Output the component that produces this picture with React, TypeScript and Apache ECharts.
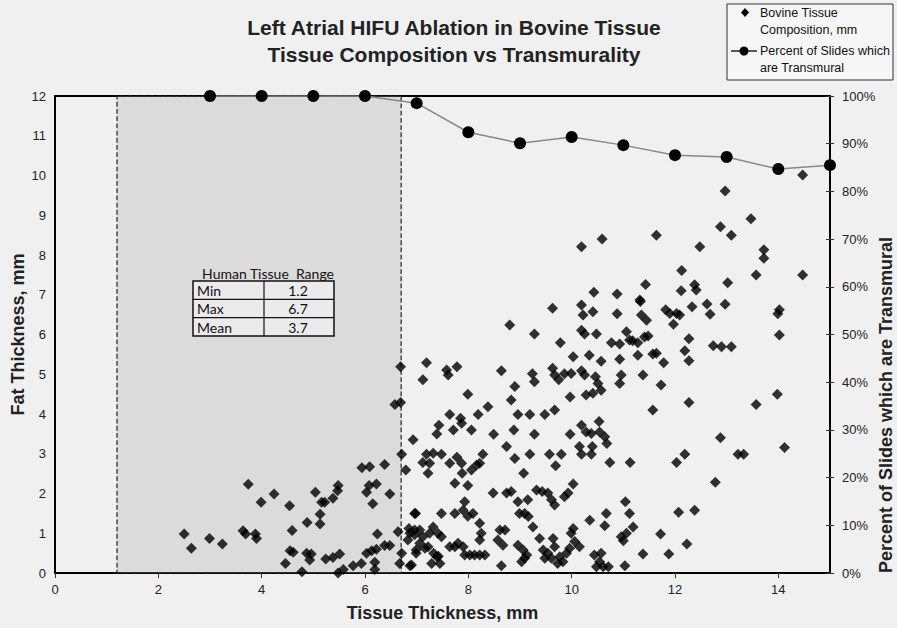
import React, { useEffect, useRef } from "react";
import * as echarts from "echarts";

// Bovine tissue composition: [tissue thickness mm, fat thickness mm]
const bovineTissue: [number, number][] = [
  [2.5, 0.98], [2.64, 0.62], [2.99, 0.87], [3.24, 0.73], [3.64, 1.06], [3.69, 0.98], [3.88, 0.98], [3.9, 0.87],
  [3.74, 2.23], [3.99, 1.78], [4.24, 1.99], [4.54, 1.69], [4.59, 1.07], [4.55, 0.56], [4.61, 0.52], [4.46, 0.24],
  [4.78, 0.03], [4.87, 0.5], [4.96, 0.48], [4.93, 0.33], [4.88, 1.27], [5.04, 2.03], [5.13, 1.48], [5.13, 1.23],
  [5.16, 1.78], [5.22, 1.78], [5.38, 1.88], [5.47, 2.07], [5.48, 2.2], [5.24, 0.35], [5.38, 0.39], [5.51, 0.48],
  [5.48, 0.0], [5.58, 0.09], [5.77, 0.18], [5.93, 0.24], [6.03, 0.5], [6.13, 0.56], [6.22, 0.6], [6.24, 0.98],
  [6.38, 0.69], [6.48, 0.69], [6.19, 0.27], [6.19, 0.09], [6.64, 1.04], [6.71, 0.5], [6.67, 0.24], [5.94, 2.65],
  [6.09, 2.67], [6.38, 2.73], [6.08, 2.2], [6.22, 2.24], [6.03, 2.03], [6.15, 1.74], [6.48, 1.99], [6.58, 4.24],
  [6.69, 4.29], [6.69, 5.19], [6.71, 2.99], [6.79, 2.59],
  [6.85, 1.12], [6.83, 0.83], [6.87, 0.18], [6.96, 1.5], [6.96, 0.96], [6.99, 0.58], [6.93, 3.35],
  [6.87, 1.0], [6.96, 1.08], [7.06, 1.08], [7.12, 0.91], [7.06, 0.75], [7.16, 0.62], [6.99, 0.5], [7.22, 0.66],
  [7.25, 1.0], [7.32, 1.16], [7.41, 1.0], [7.48, 0.91], [6.9, 0.2], [7.45, 0.24], [7.29, 0.24], [7.39, 0.41],
  [7.33, 0.5], [7.42, 0.42],
  [6.98, 1.5], [7.48, 1.5], [7.74, 1.5], [7.9, 1.58], [7.99, 1.43], [8.09, 1.5], [8.22, 1.25], [8.25, 1.0],
  [8.22, 0.83], [8.61, 1.08], [8.71, 1.08], [8.57, 0.83], [8.67, 0.7], [8.99, 1.5], [9.09, 1.5], [9.16, 1.42],
  [9.25, 1.16], [9.38, 0.87], [8.96, 0.7], [9.06, 0.58], [9.13, 0.45], [9.64, 0.87], [9.67, 0.66], [9.54, 0.5],
  [9.61, 0.37], [9.77, 0.41], [9.9, 0.5], [9.96, 0.62], [10.03, 1.12], [10.15, 0.66], [9.99, 1.0], [9.83, 0.28],
  [9.03, 0.28], [9.09, 0.37], [8.64, 0.18], [7.93, 0.45], [8.03, 0.45], [8.12, 0.45], [8.22, 0.45], [8.32, 0.45],
  [7.64, 0.66], [7.74, 0.66], [7.8, 0.75], [7.9, 0.66], [9.45, 0.58], [9.48, 0.37], [9.73, 0.24], [10.06, 0.79],
  [10.44, 0.45], [10.54, 0.28], [10.48, 0.16], [10.61, 0.16], [10.71, 0.16], [10.57, 0.5], [11.03, 0.18],
  [11.38, 0.48], [11.88, 0.48], [11.12, 1.5], [11.19, 1.16], [11.06, 1.0], [10.96, 0.91], [11.0, 0.81],
  [11.04, 1.79], [10.67, 1.5], [10.64, 1.19], [10.35, 1.33], [11.72, 0.98], [12.23, 0.73], [12.07, 1.53],
  [12.38, 1.58],
  [7.93, 1.79], [8.48, 2.01], [8.74, 2.01], [8.83, 2.05], [8.96, 1.79], [9.15, 1.84], [9.32, 2.09], [9.43, 2.05],
  [9.54, 2.01], [9.61, 1.84], [9.67, 1.71], [9.86, 1.92], [9.93, 2.01], [10.03, 2.24], [7.74, 2.26], [7.99, 2.2],
  [7.19, 2.99], [7.32, 3.01], [7.48, 2.99], [7.12, 2.78], [7.25, 2.76], [7.22, 2.51], [7.64, 2.76], [7.78, 2.91],
  [7.87, 2.76], [7.88, 2.51], [8.06, 2.59], [8.16, 2.72], [8.22, 2.76], [8.28, 2.99], [8.74, 3.18], [8.9, 2.88],
  [9.19, 2.99], [9.57, 2.99], [9.8, 2.99], [9.69, 2.7], [9.07, 2.51], [10.15, 3.18], [10.19, 2.99], [10.4, 3.18],
  [10.38, 2.99], [10.74, 2.78], [11.13, 2.78], [12.19, 2.99], [12.03, 2.78], [13.22, 2.99], [13.33, 2.99],
  [12.78, 2.28], [14.12, 3.16], [12.88, 3.4],
  [7.43, 3.72], [7.39, 3.5], [7.64, 3.99], [7.85, 3.89], [7.87, 3.77], [7.71, 3.6], [8.06, 3.6], [8.19, 3.99],
  [8.49, 3.49], [8.88, 3.6], [8.96, 3.99], [9.19, 3.99], [9.48, 3.99], [9.67, 4.1], [9.28, 3.49], [9.97, 3.49],
  [10.19, 3.72], [10.28, 3.55], [10.38, 3.51], [10.53, 3.81], [10.54, 3.55], [10.64, 3.43], [10.68, 3.26],
  [11.57, 4.1], [12.27, 4.29], [13.57, 4.24], [13.98, 4.5], [8.38, 4.18],
  [7.99, 4.5], [8.83, 4.35], [8.9, 4.69], [9.97, 4.43], [10.28, 4.48], [10.41, 4.52], [10.57, 4.6], [7.19, 5.29],
  [7.12, 4.86], [7.58, 5.11], [7.61, 4.98], [7.78, 5.19], [8.64, 5.09], [9.24, 5.01], [9.28, 4.81], [9.63, 5.15],
  [9.67, 4.98], [9.75, 4.86], [9.86, 5.01], [9.99, 5.02], [10.19, 5.09], [10.25, 4.98], [10.46, 4.94],
  [10.51, 4.77], [10.96, 4.98], [10.93, 4.77], [11.38, 4.98], [11.73, 4.73], [10.03, 5.44], [10.34, 5.48],
  [10.57, 5.33], [10.93, 5.38], [11.28, 5.48], [11.57, 5.51], [11.78, 5.29], [12.19, 5.59], [12.27, 5.34],
  [11.64, 5.53],
  [8.8, 6.24], [9.28, 6.01], [9.78, 5.79], [10.19, 6.11], [10.25, 6.01], [10.48, 6.01], [10.77, 5.79],
  [10.93, 5.76], [11.06, 6.07], [11.12, 5.86], [11.28, 5.79], [11.48, 5.96], [11.18, 5.84], [11.41, 5.94],
  [9.63, 6.66], [10.19, 6.74], [10.22, 6.49], [10.41, 6.57], [10.88, 6.52], [11.33, 6.83], [11.35, 6.49],
  [11.45, 6.36], [12.27, 5.89], [12.74, 5.72], [12.9, 5.69], [13.09, 5.69], [14.02, 5.99], [11.82, 6.62],
  [11.9, 6.53], [12.03, 6.53], [12.09, 6.49], [11.97, 6.26], [14.02, 6.62], [13.99, 6.52], [12.33, 6.7],
  [12.62, 6.77], [12.68, 6.51], [12.97, 6.76], [10.43, 7.06], [10.88, 7.02], [11.32, 6.87],
  [12.12, 7.1], [12.38, 7.25], [12.41, 7.12], [13.02, 7.3], [11.43, 7.26], [12.13, 7.61], [13.57, 7.5],
  [14.47, 7.5], [13.72, 8.13], [13.72, 7.92], [12.48, 8.21], [10.19, 8.21], [10.59, 8.4], [11.64, 8.5],
  [12.88, 8.71], [13.09, 8.5], [13.47, 8.91], [12.97, 9.61], [14.47, 10.01],
];

// Percent of slides which are transmural
const transmuralThickness = [3, 4, 5, 6, 7, 8, 9, 10, 11, 12, 13, 14, 15];
const transmuralPercent = [100, 100, 100, 100, 98.5, 92.4, 90.1, 91.4, 89.7, 87.6, 87.2, 84.7, 85.5];

// Human tissue range (mm)
const humanMin = 1.2;
const humanMax = 6.7;
const humanMean = 3.7;
const tableRows = ["Min", "Max", "Mean"];
const tableValues = [humanMin, humanMax, humanMean];

const titleLines = ["Left Atrial HIFU Ablation in Bovine Tissue", "Tissue Composition vs Transmurality"];
const scatterName = "Bovine Tissue Composition, mm";
const lineName = "Percent of Slides which are Transmural";

const FONT = "'Liberation Sans', Arial, sans-serif";
const TFONT = "Lato, 'Open Sans', sans-serif";

export default function App() {
  const ref = useRef<HTMLDivElement>(null);
  useEffect(() => {
    if (!ref.current) return;
    const chart = echarts.init(ref.current, undefined, { renderer: "svg" });

    const tableX = 193, tableY = 281, rowH = 18.3, colSplit = 264, tableW = 141;
    const tableGraphics: any[] = [
      {
        type: "text", x: 268, y: 273, z: 10,
        style: { text: "Human Tissue  Range", fontFamily: TFONT, fontSize: 14, fill: "#111", align: "center", verticalAlign: "middle" },
      },
      {
        type: "rect", z: 10,
        shape: { x: tableX, y: tableY, width: tableW, height: rowH * 3 },
        style: { fill: "#ebebeb", stroke: "#111", lineWidth: 1.5 },
      },
      { type: "line", z: 11, shape: { x1: tableX, y1: tableY + rowH, x2: tableX + tableW, y2: tableY + rowH }, style: { stroke: "#111", lineWidth: 1.2 } },
      { type: "line", z: 11, shape: { x1: tableX, y1: tableY + 2 * rowH, x2: tableX + tableW, y2: tableY + 2 * rowH }, style: { stroke: "#111", lineWidth: 1.2 } },
      { type: "line", z: 11, shape: { x1: colSplit, y1: tableY, x2: colSplit, y2: tableY + 3 * rowH }, style: { stroke: "#111", lineWidth: 1.2 } },
    ];
    tableRows.forEach((r, i) => {
      tableGraphics.push({
        type: "text", z: 12, x: tableX + 4, y: tableY + rowH * i + rowH / 2 + 0.5,
        style: { text: r, fontFamily: TFONT, fontSize: 14, fill: "#111", align: "left", verticalAlign: "middle" },
      });
      tableGraphics.push({
        type: "text", z: 12, x: 298, y: tableY + rowH * i + rowH / 2 + 0.5,
        style: { text: String(tableValues[i]), fontFamily: TFONT, fontSize: 14, fill: "#111", align: "center", verticalAlign: "middle" },
      });
    });

    const legendGraphics: any[] = [
      { type: "rect", z: 10, shape: { x: 727, y: 4, width: 166, height: 76 }, style: { fill: "#f6f6f6", stroke: "#333", lineWidth: 1 } },
      { type: "polygon", z: 11, shape: { points: [[745, 8], [749, 12.5], [745, 17], [741, 12.5]] }, style: { fill: "#000" } },
      { type: "line", z: 11, shape: { x1: 731, y1: 51, x2: 757, y2: 51 }, style: { stroke: "#222", lineWidth: 1.5 } },
      { type: "circle", z: 12, shape: { cx: 744, cy: 51, r: 4.5 }, style: { fill: "#000" } },
      { type: "text", z: 11, x: 760, y: 13, style: { text: "Bovine Tissue", fontFamily: FONT, fontSize: 12.5, fill: "#111", verticalAlign: "middle" } },
      { type: "text", z: 11, x: 760, y: 30, style: { text: "Composition, mm", fontFamily: FONT, fontSize: 12.5, fill: "#111", verticalAlign: "middle" } },
      { type: "text", z: 11, x: 760, y: 51, style: { text: "Percent of Slides which", fontFamily: FONT, fontSize: 12.5, fill: "#111", verticalAlign: "middle" } },
      { type: "text", z: 11, x: 760, y: 68, style: { text: "are Transmural", fontFamily: FONT, fontSize: 12.5, fill: "#111", verticalAlign: "middle" } },
    ];

    const option: any = {
      animation: false,
      backgroundColor: "#f0f0f0",
      textStyle: { fontFamily: FONT },
      title: {
        text: titleLines.join("\n"),
        left: 449,
        top: 9,
        textAlign: "center",
        textStyle: { fontFamily: FONT, fontSize: 21, fontWeight: "bold", color: "#222", lineHeight: 27 },
      },
      grid: {
        left: 55, right: 67, top: 96, bottom: 55, show: true, borderColor: "#000", borderWidth: 2,
        backgroundColor: "transparent", containLabel: false, outerBoundsMode: "none",
      },
      xAxis: {
        type: "value", min: 0, max: 15, interval: 2,
        axisLine: { show: true, lineStyle: { color: "#000", width: 2 } },
        axisTick: { show: true, length: 5, lineStyle: { color: "#333" } },
        axisLabel: { fontSize: 13, color: "#222", margin: 10, showMaxLabel: false },
        splitLine: { show: false },
        name: "Tissue Thickness, mm", nameLocation: "middle", nameGap: 31, nameMoveOverlap: false,
        nameTextStyle: { fontSize: 18, fontWeight: "bold", color: "#222" },
      },
      yAxis: [
        {
          type: "value", min: 0, max: 12, interval: 1,
          axisLine: { show: true, lineStyle: { color: "#000", width: 2 } },
          axisTick: { show: false },
          axisLabel: { fontSize: 13, color: "#222", margin: 9 },
          splitLine: { show: false },
          name: "Fat Thickness, mm", nameLocation: "middle", nameGap: 28, nameMoveOverlap: false,
          nameTextStyle: { fontSize: 18, fontWeight: "bold", color: "#222" },
        },
        {
          type: "value", position: "right", min: 0, max: 100, interval: 10,
          axisLine: { show: true, lineStyle: { color: "#000", width: 2 } },
          axisTick: { show: true, length: 4, lineStyle: { color: "#333" } },
          axisLabel: { fontSize: 13, color: "#222", margin: 12, formatter: "{value}%" },
          splitLine: { show: false },
        },
        {
          type: "value", position: "right", min: 0, max: 100, interval: 10,
          axisLine: { show: false },
          axisTick: { show: true, inside: true, length: 4, lineStyle: { color: "#333" } },
          axisLabel: { show: false },
          splitLine: { show: false },
        },
      ],
      series: [
        {
          name: scatterName, type: "scatter", data: bovineTissue, xAxisIndex: 0, yAxisIndex: 0,
          symbol: "diamond", symbolSize: 11, itemStyle: { color: "#000" }, z: 2,
        },
        {
          name: "Human Tissue Range", type: "scatter", data: [], xAxisIndex: 0, yAxisIndex: 0, z: 3,
          markArea: {
            silent: true,
            itemStyle: { color: "rgba(172,172,172,0.3)", borderColor: "#222", borderWidth: 1.2, borderType: "dashed" },
            data: [[{ xAxis: humanMin }, { xAxis: humanMax }]],
          },
        },
        {
          name: lineName, type: "line", yAxisIndex: 1, z: 4,
          data: transmuralThickness.map((t, i) => [t, transmuralPercent[i]]),
          symbol: "circle", symbolSize: 12, showSymbol: true,
          itemStyle: { color: "#000" },
          lineStyle: { color: "#888", width: 1.5 },
        },
      ],
      graphic: [
        ...tableGraphics,
        ...legendGraphics,
        {
          type: "text", z: 10, x: 886, y: 405, rotation: Math.PI / 2,
          style: { text: lineName, fontFamily: FONT, fontSize: 18, fontWeight: "bold", fill: "#222", align: "center", verticalAlign: "middle" },
        },
      ],
    };
    chart.setOption(option);
    return () => chart.dispose();
  }, []);
  return <div ref={ref} style={{ position: "fixed", left: 0, top: 0, width: 897, height: 628 }} />;
}
